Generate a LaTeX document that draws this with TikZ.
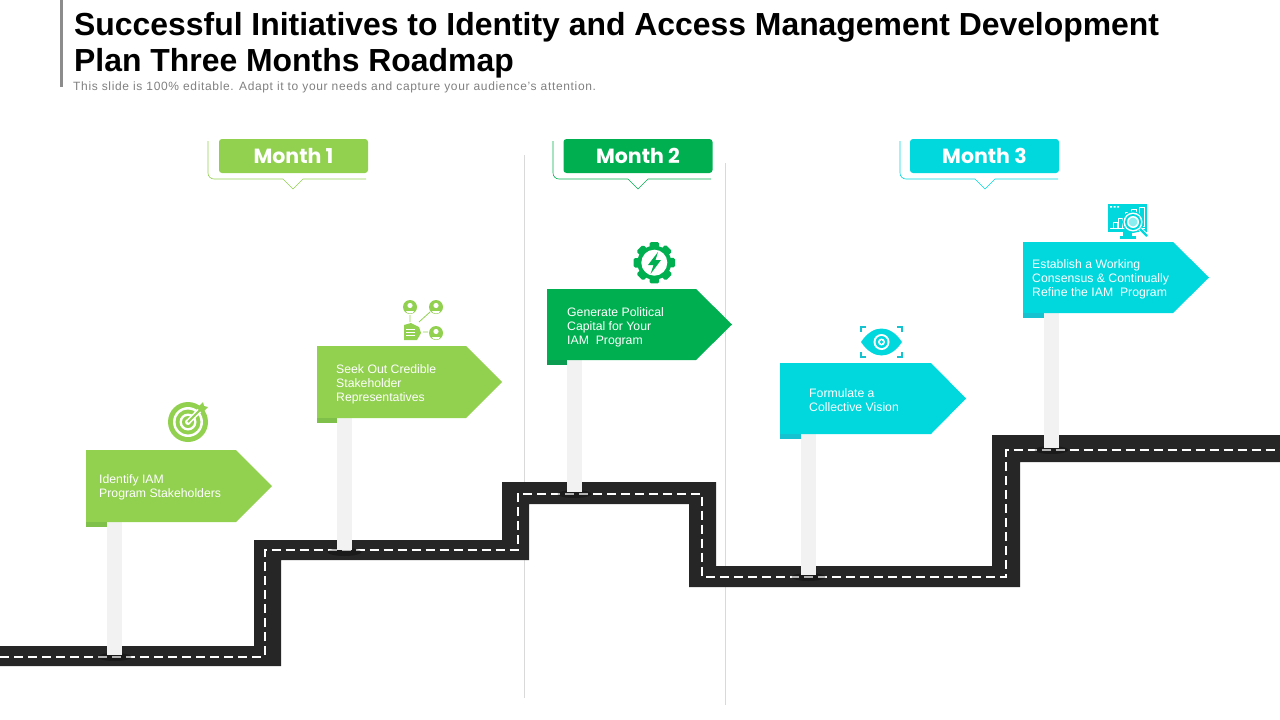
\documentclass[tikz,border=0pt]{standalone}
\usepackage{fontspec}
\setmainfont{Liberation Sans}
\newfontfamily\monthfont{Poppins}
\usetikzlibrary{positioning}
\definecolor{leaf}{HTML}{92D050}
\definecolor{leafdark}{HTML}{7FC04A}
\definecolor{grass}{HTML}{00B050}
\definecolor{grassdark}{HTML}{0B9C52}
\definecolor{aqua}{HTML}{00D8DE}
\definecolor{aquadark}{HTML}{14C3CF}
\definecolor{asphalt}{HTML}{262626}
\tikzset{
  title/.style={anchor=west,inner sep=0pt,font=\bfseries\fontsize{31.9}{32}\selectfont},
  month/.style={rounded corners=3pt,minimum width=149pt,minimum height=34pt,inner sep=0pt,
    text=white,font=\monthfont\bfseries\fontsize{20.5}{20.5}\selectfont},
  signtext/.style={anchor=west,inner sep=0pt,align=left,text=white,
    font=\fontsize{12.25}{14}\selectfont},
  post/.style={fill=black!5},
  shade/.style={fill=black,opacity=0.3},
  divider/.style={draw=black!15,line width=0.8pt},
}
\begin{document}
\begin{tikzpicture}[x=1pt,y=-1pt]
  \useasboundingbox (0,0) rectangle (1280,720);

  % heading
  \fill[black!45] (60,0) rectangle (63,87);
  \node[title] (head1) at (74,27) {Successful Initiatives to Identity and Access Management Development};
  \node[title] (head2) at (74,63) {Plan Three Months Roadmap};
  \node[anchor=west,inner sep=0pt,text=black!50,font=\fontsize{12}{12}\selectfont] (sub) at (73,87)
    {\addfontfeature{LetterSpace=5.5}This slide is 100\% editable. Adapt it to your needs and capture your audience's attention.};

  \draw[divider] (524.5,155) -- (524.5,698);
  \draw[divider] (725.5,163) -- (725.5,705);

  % road
  \fill[asphalt] (0,646) -- (254,646) -- (254,540) -- (502,540) -- (502,482) -- (716,482)
    -- (716,566) -- (992,566) -- (992,435) -- (1280,435) -- (1280,462) -- (1020,462)
    -- (1020,587) -- (689,587) -- (689,504) -- (529,504) -- (529,560) -- (281,560)
    -- (281,666) -- (0,666) -- cycle;
  \draw[white,line width=2pt,dash pattern=on 9pt off 5pt] (0,656.5) -- (264.5,656.5) -- (264.5,550)
    -- (517.5,550) -- (517.5,493.5) -- (702,493.5) -- (702,576.5) -- (1006,576.5)
    -- (1006,450) -- (1280,450);
  \foreach \px/\py in {114.5/657,344.5/552,574.5/494,808.5/577,1051.5/450}
    \fill[shade] (\px,\py) ellipse (17 and 4);

  % posts
  \fill[post] (107,522) rectangle (122,655);
  \fill[post] (337,418) rectangle (352,550);
  \fill[post] (567,360) rectangle (582,492);
  \fill[post] (801,434) rectangle (816,575);
  \fill[post] (1044,313) rectangle (1059,448);

  % signs
  \fill[leaf] (86,450) -- (236,450) -- (272,486) -- (236,522) -- (86,522) -- cycle;
  \fill[leafdark] (86,522) rectangle (107,527);
  \node[signtext] (sign1) at (99,487.5) {Identify IAM\\Program Stakeholders};

  \fill[leaf] (317,346) -- (466,346) -- (502,382) -- (466,418) -- (317,418) -- cycle;
  \fill[leafdark] (317,418) rectangle (337,423);
  \node[signtext] (sign2) at (336,384.5) {Seek Out Credible\\Stakeholder\\Representatives};

  \fill[grass] (547,289) -- (696,289) -- (732,324.5) -- (696,360) -- (547,360) -- cycle;
  \fill[grassdark] (547,360) rectangle (567,365);
  \node[signtext] (sign3) at (567,327.5) {Generate Political\\Capital for Your\\IAM\ \ Program};

  \fill[aqua] (780,363) -- (931,363) -- (966,398.5) -- (931,434) -- (780,434) -- cycle;
  \fill[aquadark] (780,434) rectangle (801,439);
  \node[signtext] (sign4) at (809,400.5) {Formulate a\\Collective Vision};

  \fill[aqua] (1023,242) -- (1173,242) -- (1209,277.5) -- (1173,313) -- (1023,313) -- cycle;
  \fill[aquadark] (1023,313) rectangle (1044,318);
  \node[signtext] (sign5) at (1032,279.5) {Establish a Working\\Consensus \& Continually\\Refine the IAM\ \ Program};

  % months
  \node[month,fill=leaf] (month1) at (293.5,156) {Month 1};
  \draw[leaf,line width=0.6pt,rounded corners=6pt] (208,141) -- (208,179) -- (283,179);
  \draw[leaf,line width=0.6pt] (283,179) -- (293,189) -- (303,179) -- (366,179);

  \node[month,fill=grass] (month2) at (638,156) {Month 2};
  \draw[grass,line width=0.6pt,rounded corners=6pt] (553,141) -- (553,179) -- (628,179);
  \draw[grass,line width=0.6pt] (628,179) -- (638,189) -- (648,179) -- (711,179);

  \node[month,fill=aqua] (month3) at (984.5,156) {Month 3};
  \draw[aqua,line width=0.6pt,rounded corners=6pt] (900,141) -- (900,179) -- (975,179);
  \draw[aqua,line width=0.6pt] (975,179) -- (985,189) -- (995,179) -- (1058,179);

  % target
  \fill[leaf] (188,422) circle (20);
  \fill[white] (188,422) circle (15);
  \fill[leaf] (188,422) circle (12.5);
  \fill[white] (188,422) circle (8.5);
  \fill[leaf] (188,422) circle (6);
  \fill[white] (188,422) circle (3);
  \draw[white,line width=5pt] (189,421) -- (206,404);
  \draw[leaf,line width=2pt] (188,422) -- (202,408);
  \fill[leaf] (197,408) -- (203,402) -- (204,406) -- (208,407) -- (202,413) -- cycle;

  % stakeholders
  \foreach \px/\py in {410/307,436/307,436/333} {
    \fill[leaf] (\px,\py) circle (7);
    \fill[white] (\px,\py-1.5) circle (2.6);
    \fill[white] (\px-4,\py+4) arc (180:360:4 and -2.5) -- cycle;
  }
  \draw[leaf,line width=0.8pt] (410,315) -- (410,322) (419,322) -- (430,312) (423,332) -- (428,332);
  \fill[leaf] (404,325) -- (411,323) -- (419,327) -- (421,333) -- (417,340) -- (404,340) -- cycle;
  \draw[white,line width=0.7pt] (406,329) -- (415,329) (406,332) -- (415,332) (406,335) -- (415,335);

  % gear
  \foreach \ang in {0,45,...,315}
    \fill[grass,rounded corners=1.5pt,rotate around={\ang:(654.3,262.7)}] (649.5,242) rectangle (659,252);
  \fill[grass] (654.3,262.7) circle (17);
  \fill[white] (654.3,262.7) circle (13);
  \fill[grass] (658,252) -- (648,265) -- (653.5,265) -- (650.5,274) -- (661,260) -- (655.5,260) -- cycle;

  % eye
  \fill[aqua] (861,342) .. controls (873,324) and (890,324) .. (902,342)
    .. controls (890,360) and (873,360) .. (861,342) -- cycle;
  \fill[white] (881.5,342) circle (8);
  \fill[aqua] (881.5,342) circle (6);
  \fill[white] (881.5,342) circle (3.5);
  \fill[aqua] (881.5,342) circle (1.8);
  \draw[aquadark,line width=2pt] (861,332) -- (861,327) -- (866,327) (897,327) -- (902,327) -- (902,332)
    (861,352) -- (861,357) -- (866,357) (897,357) -- (902,357) -- (902,352);

  % monitor
  \fill[aqua] (1108,204) rectangle (1147,232);
  \fill[aqua] (1123,232) rectangle (1132,236);
  \fill[aqua] (1120,236) rectangle (1136,238.5);
  \fill[white] (1110,206) rectangle (1112,207.5) (1113.5,206) rectangle (1115.5,207.5) (1117,206) rectangle (1119,207.5);
  \draw[white,line width=0.7pt] (1110,228.5) -- (1145,228.5);
  \draw[white,line width=0.8pt] (1113,228) rectangle (1117,222) (1118,228) rectangle (1122,218)
    (1125,218) rectangle (1130,212) (1131,213) rectangle (1136,209) (1139,226) rectangle (1144,207);
  \fill[aqua] (1133,222) circle (11);
  \fill[white] (1133,222) circle (9.5);
  \fill[aqua] (1133,222) circle (8);
  \fill[white] (1133,222) circle (6);
  \fill[aqua!45] (1133,222) circle (4.5);
  \draw[white,line width=4pt] (1140,229) -- (1148,237);
  \draw[aqua,line width=2.4pt] (1140,229) -- (1147,236);
\end{tikzpicture}
\end{document}
